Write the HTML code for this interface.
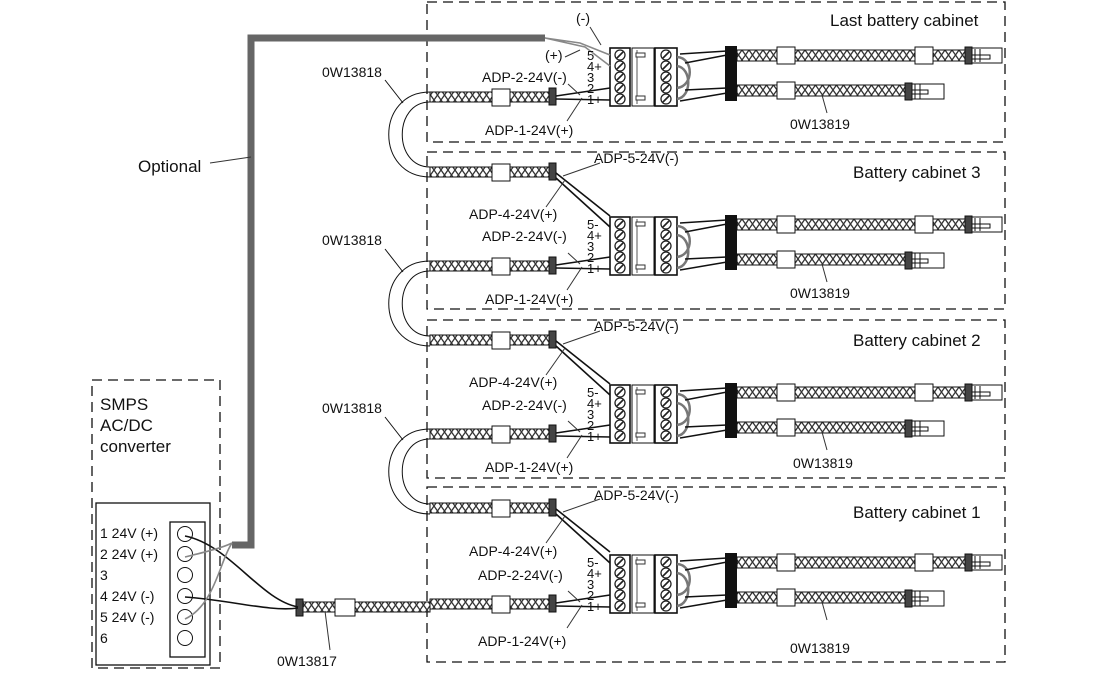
<!DOCTYPE html>
<html><head><meta charset="utf-8"><style>
html,body{margin:0;padding:0;background:#fff;}
svg{display:block;}
text{font-family:"Liberation Sans",sans-serif;fill:#111;}
</style></head><body>
<svg width="1114" height="681" viewBox="0 0 1114 681" xmlns="http://www.w3.org/2000/svg">
<defs>
<pattern id="hx" width="7" height="10" patternUnits="userSpaceOnUse">
<rect width="7" height="10" fill="#fff"/>
<path d="M0,0 L7,10 M7,0 L0,10" stroke="#333" stroke-width="1.3"/>
</pattern>
<g id="blk">
<rect x="610" y="48" width="20" height="58" fill="#fff" stroke="#111" stroke-width="1.6"/>
<rect x="632" y="48" width="22" height="58" fill="#fff" stroke="#111" stroke-width="1"/>
<rect x="655" y="48" width="22" height="58" fill="#fff" stroke="#111" stroke-width="1.6"/>
<line x1="637" y1="50" x2="637" y2="104" stroke="#555"/>
<rect x="636" y="53" width="9" height="4" fill="#fff" stroke="#333"/>
<rect x="636" y="96" width="9" height="4" fill="#fff" stroke="#333"/>
<g fill="#fff" stroke="#222" stroke-width="1.3">
<circle cx="620" cy="55" r="5"/><circle cx="620" cy="66" r="5"/><circle cx="620" cy="77" r="5"/><circle cx="620" cy="88" r="5"/><circle cx="620" cy="99" r="5"/>
<circle cx="666" cy="55" r="5"/><circle cx="666" cy="66" r="5"/><circle cx="666" cy="77" r="5"/><circle cx="666" cy="88" r="5"/><circle cx="666" cy="99" r="5"/>
</g>
<g stroke="#222" stroke-width="1.6">
<path d="M617,58 L623,52 M617,69 L623,63 M617,80 L623,74 M617,91 L623,85 M617,102 L623,96"/>
<path d="M663,58 L669,52 M663,69 L669,63 M663,80 L669,74 M663,91 L669,85 M663,102 L669,96"/>
</g>
<g fill="none" stroke="#777" stroke-width="2.5">
<path d="M677,57 C694,58 694,86 677,88"/>
<path d="M677,66 C692,68 692,97 677,99"/>
</g>
<g stroke="#111" stroke-width="1.5">
<line x1="680" y1="54" x2="727" y2="51"/><line x1="685" y1="63" x2="727" y2="55"/>
<line x1="685" y1="90" x2="727" y2="88"/><line x1="680" y1="101" x2="727" y2="93"/>
</g>
<rect x="725" y="46" width="12" height="55" fill="#111"/>
<rect x="737" y="50" width="228" height="11" fill="url(#hx)" stroke="#111"/>
<rect x="777" y="47" width="18" height="17" fill="#fff" stroke="#111"/>
<rect x="915" y="47" width="18" height="17" fill="#fff" stroke="#111"/>
<rect x="965" y="47" width="7" height="17" fill="#444" stroke="#111"/>
<rect x="972" y="48" width="30" height="15" fill="#fff" stroke="#111"/>
<path d="M975,49 V62 M980,49 V62 M972,55 H990 V59 H972" fill="none" stroke="#111"/>
<rect x="737" y="85" width="168" height="11" fill="url(#hx)" stroke="#111"/>
<rect x="777" y="82" width="18" height="17" fill="#fff" stroke="#111"/>
<rect x="905" y="83" width="7" height="17" fill="#444" stroke="#111"/>
<rect x="912" y="84" width="32" height="15" fill="#fff" stroke="#111"/>
<path d="M915,84 V99 M920,84 V99 M912,90 H928 V94 H912" fill="none" stroke="#111"/>
<line x1="822" y1="95" x2="827" y2="113" stroke="#333"/>
<rect x="430" y="92" width="120" height="10" fill="url(#hx)" stroke="#111"/>
<rect x="492" y="89" width="18" height="17" fill="#fff" stroke="#111"/>
<rect x="549" y="88" width="7" height="17" fill="#444" stroke="#111"/>
<g stroke="#111" stroke-width="1.6"><line x1="556" y1="96" x2="610" y2="88"/><line x1="556" y1="99" x2="610" y2="100"/></g>
<line x1="568" y1="84" x2="580" y2="95" stroke="#333"/>
<line x1="582" y1="98" x2="567" y2="121" stroke="#333"/>
</g>
<g id="top">
<rect x="430" y="167" width="120" height="10" fill="url(#hx)" stroke="#111"/>
<rect x="492" y="164" width="18" height="17" fill="#fff" stroke="#111"/>
<rect x="549" y="163" width="7" height="17" fill="#444" stroke="#111"/>
<g stroke="#111" stroke-width="1.6"><line x1="556" y1="173" x2="610" y2="216"/><line x1="556" y1="178" x2="610" y2="227"/></g>
<line x1="563" y1="176" x2="600" y2="163" stroke="#333"/>
<line x1="565" y1="180" x2="546" y2="207" stroke="#333"/>
</g>
<g id="loop" fill="none" stroke="#111">
<path d="M430,92 C375,92 375,177 430,177"/>
<path d="M430,102 C393,102 393,167 430,167"/>
<line x1="385" y1="80" x2="403" y2="103"/>
</g>
</defs>

<g fill="none" stroke="#111" stroke-width="1.3" stroke-dasharray="10,6">
<rect x="427" y="2" width="578" height="140"/>
<rect x="427" y="152" width="578" height="157"/>
<rect x="427" y="320" width="578" height="158"/>
<rect x="427" y="487" width="578" height="175"/>
<rect x="92" y="380" width="128" height="288"/>
</g>

<use href="#blk"/>
<use href="#blk" transform="translate(0,169)"/>
<use href="#blk" transform="translate(0,337)"/>
<use href="#blk" transform="translate(0,507)"/>
<use href="#top"/>
<use href="#top" transform="translate(0,168)"/>
<use href="#top" transform="translate(0,336)"/>
<use href="#loop"/>
<use href="#loop" transform="translate(0,169)"/>
<use href="#loop" transform="translate(0,337)"/>
<rect x="303" y="602" width="127" height="10" fill="url(#hx)" stroke="#111"/>
<rect x="296" y="599" width="7" height="17" fill="#444" stroke="#111"/>
<rect x="335" y="599" width="20" height="17" fill="#fff" stroke="#111"/>
<line x1="325" y1="611" x2="330" y2="650" stroke="#333"/>

<polyline points="232,545 251,545 251,38 545,38" fill="none" stroke="#666" stroke-width="7"/>
<path d="M545,38 L580,43 L610,55 M545,38 L585,47 L610,66" fill="none" stroke="#888" stroke-width="1.5"/>
<line x1="590" y1="27" x2="601" y2="45" stroke="#333"/>
<line x1="565" y1="57" x2="580" y2="50" stroke="#333"/>
<line x1="210" y1="163" x2="251" y2="157" stroke="#333"/>

<rect x="96" y="503" width="114" height="162" fill="#fff" stroke="#111" stroke-width="1.3"/>
<rect x="170" y="522" width="35" height="135" fill="#fff" stroke="#111" stroke-width="1.3"/>
<g fill="#fff" stroke="#111">
<circle cx="185" cy="534" r="7.5"/><circle cx="185" cy="554" r="7.5"/><circle cx="185" cy="575" r="7.5"/><circle cx="185" cy="596" r="7.5"/><circle cx="185" cy="617" r="7.5"/><circle cx="185" cy="638" r="7.5"/>
</g>
<g fill="none" stroke-width="1.6">
<path d="M185,536 C230,545 260,600 298,607" stroke="#111"/>
<path d="M185,597 C230,600 270,612 298,608" stroke="#111"/>
<path d="M185,557 C205,552 222,548 232,543" stroke="#888"/>
<path d="M185,619 C215,605 220,560 232,543" stroke="#888"/>
</g>

<g font-size="14">
<text x="100" y="538">1 24V (+)</text>
<text x="100" y="559">2 24V (+)</text>
<text x="100" y="580">3</text>
<text x="100" y="601">4 24V (-)</text>
<text x="100" y="622">5 24V (-)</text>
<text x="100" y="643">6</text>
</g>
<g font-size="17">
<text x="100" y="410">SMPS</text>
<text x="100" y="431">AC/DC</text>
<text x="100" y="452">converter</text>
<text x="138" y="172">Optional</text>
<text x="830" y="26">Last battery cabinet</text>
<text x="853" y="178">Battery cabinet 3</text>
<text x="853" y="346">Battery cabinet 2</text>
<text x="853" y="518">Battery cabinet 1</text>
</g>
<g font-size="14">
<text x="576" y="23">(-)</text>
<text x="545" y="60">(+)</text>
<text x="322" y="77">0W13818</text>
<text x="322" y="245">0W13818</text>
<text x="322" y="413">0W13818</text>
<text x="482" y="82">ADP-2-24V(-)</text>
<text x="485" y="135">ADP-1-24V(+)</text>
<text x="790" y="129">0W13819</text>
<text x="594" y="163">ADP-5-24V(-)</text>
<text x="469" y="219">ADP-4-24V(+)</text>
<text x="482" y="241">ADP-2-24V(-)</text>
<text x="485" y="304">ADP-1-24V(+)</text>
<text x="790" y="298">0W13819</text>
<text x="594" y="331">ADP-5-24V(-)</text>
<text x="469" y="387">ADP-4-24V(+)</text>
<text x="482" y="410">ADP-2-24V(-)</text>
<text x="485" y="472">ADP-1-24V(+)</text>
<text x="793" y="468">0W13819</text>
<text x="594" y="500">ADP-5-24V(-)</text>
<text x="469" y="556">ADP-4-24V(+)</text>
<text x="478" y="580">ADP-2-24V(-)</text>
<text x="478" y="646">ADP-1-24V(+)</text>
<text x="790" y="653">0W13819</text>
<text x="277" y="666">0W13817</text>
</g>
<g font-size="13">
<text x="587" y="60">5</text><text x="587" y="71">4+</text><text x="587" y="82">3</text><text x="587" y="93">2</text><text x="587" y="104">1+</text>
<text x="587" y="229">5-</text><text x="587" y="240">4+</text><text x="587" y="251">3</text><text x="587" y="262">2</text><text x="587" y="273">1+</text>
<text x="587" y="397">5-</text><text x="587" y="408">4+</text><text x="587" y="419">3</text><text x="587" y="430">2</text><text x="587" y="441">1+</text>
<text x="587" y="567">5-</text><text x="587" y="578">4+</text><text x="587" y="589">3</text><text x="587" y="600">2</text><text x="587" y="611">1+</text>
</g>
</svg>
</body></html>
